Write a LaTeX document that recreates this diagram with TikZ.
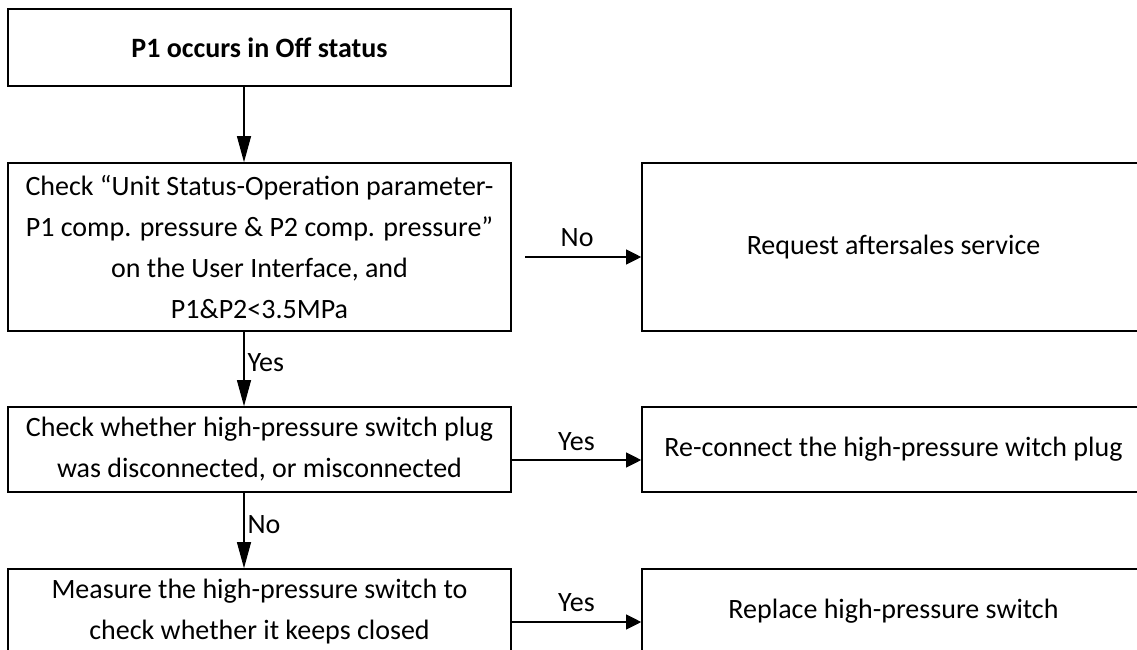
\documentclass[tikz,border=0pt]{standalone}
\usepackage{fontspec}
\setmainfont{Carlito}
\usetikzlibrary{arrows.meta}
\begin{document}
\begin{tikzpicture}[x=1pt,y=-1pt,
 box/.style={draw, line width=1.6pt, inner sep=0pt, align=center, font=\fontsize{28}{41}\selectfont},
 varr/.style={line width=1.1pt, -{Triangle[length=26pt,width=14pt]}},
 harr/.style={line width=1.1pt, -{Triangle[length=15pt,width=15pt]}},
 lbl/.style={font=\fontsize{28}{32}\selectfont, inner sep=0pt}]
\useasboundingbox (0,0) rectangle (1137,650);
\clip (0,0) rectangle (1137,650);
\node[box, minimum width=503pt, minimum height=77pt, font=\fontsize{28}{41}\selectfont\bfseries] (b1) at (259.5,47.5) {P1 occurs in Off status};
\node[box, minimum width=503pt, minimum height=168pt] (b2) at (259.5,247) {Check “Unit Status-Operation parameter-\\P1 comp. pressure \& P2 comp. pressure”\\on the User Interface, and\\P1\&P2<3.5MPa};
\node[box, minimum width=503pt, minimum height=85pt] (b3) at (259.5,449.5) {Check whether high-pressure switch plug\\was disconnected, or misconnected};
\node[box, minimum width=503pt, minimum height=85pt] (b4) at (259.5,611.5) {Measure the high-pressure switch to\\check whether it keeps closed};
\node[box, minimum width=503pt, minimum height=168pt] (r1) at (893.5,247) {Request aftersales service};
\node[box, minimum width=503pt, minimum height=85pt] (r2) at (893.5,449.5) {Re-connect the high-pressure witch plug};
\node[box, minimum width=503pt, minimum height=85pt] (r3) at (893.5,611.5) {Replace high-pressure switch};
\coordinate (vx) at (244,0);
\coordinate (h1) at (525,257);
\coordinate (h2) at (0,460);
\coordinate (h3) at (0,622);
\draw[varr] (b1.south -| vx) -- (b2.north -| vx);
\draw[varr] (b2.south -| vx) -- node[lbl, anchor=west, midway, xshift=3pt, yshift=6pt] (l1) {Yes} (b3.north -| vx);
\draw[varr] (b3.south -| vx) -- node[lbl, anchor=west, midway, xshift=3pt, yshift=6pt] (l2) {No} (b4.north -| vx);
\draw[harr] (h1) -- node[lbl, midway, yshift=19pt, xshift=-6pt] (l3) {No} (h1 -| r1.west);
\draw[harr] (b3.east |- h2) -- node[lbl, midway, yshift=18pt] (l4) {Yes} (r2.west |- h2);
\draw[harr] (b4.east |- h3) -- node[lbl, midway, yshift=19pt] (l5) {Yes} (r3.west |- h3);
\end{tikzpicture}
\end{document}
